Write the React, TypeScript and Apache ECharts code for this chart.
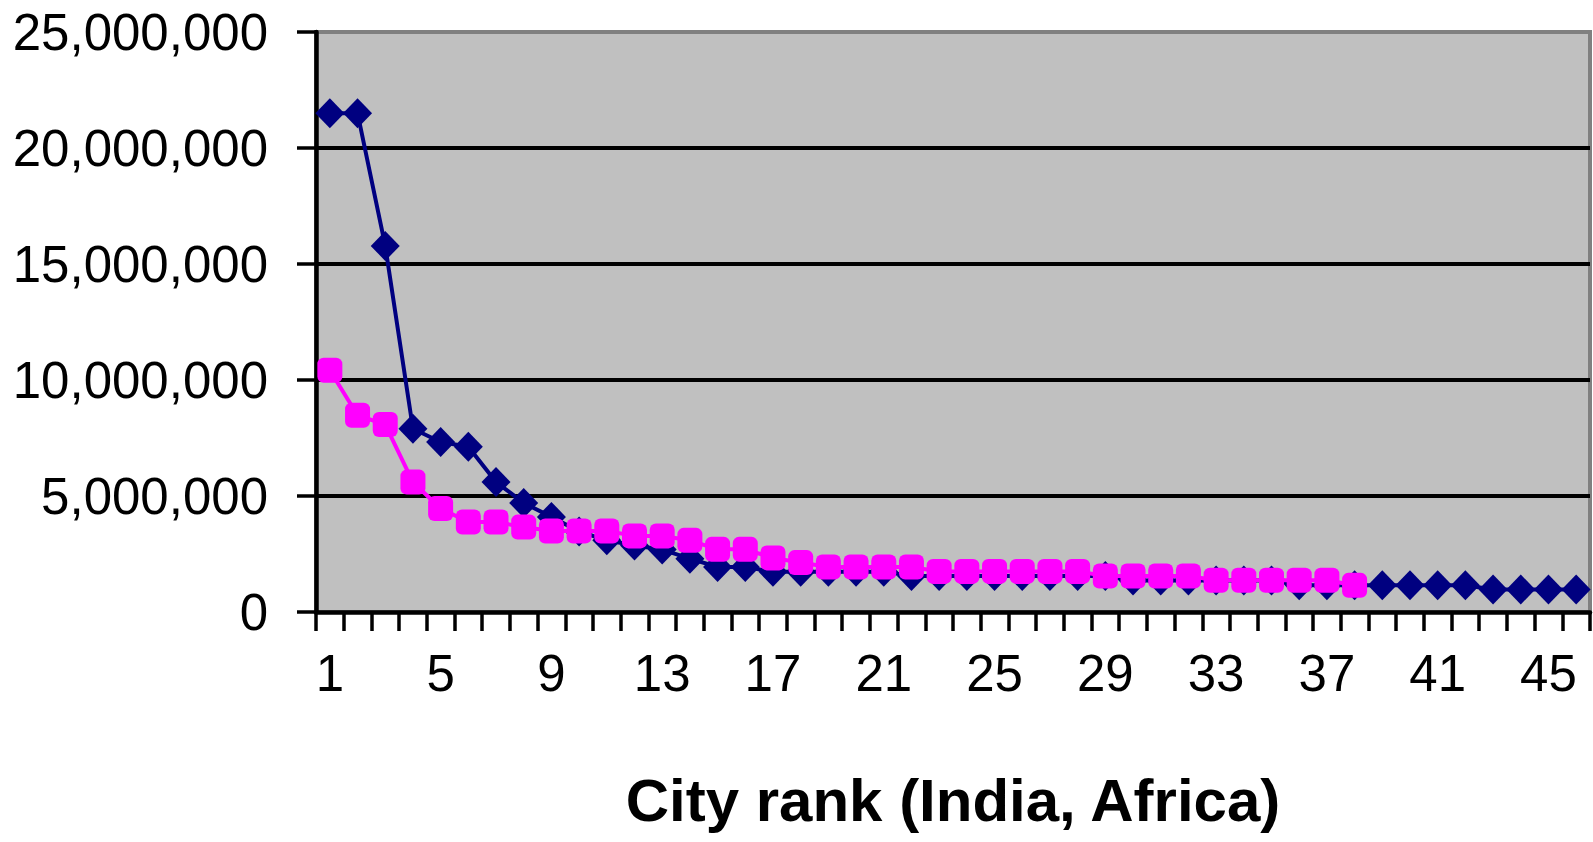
import React, { useEffect, useRef } from "react";
import * as echarts from "echarts";

const cityRanks = [
  "1", "2", "3", "4", "5", "6", "7", "8", "9", "10",
  "11", "12", "13", "14", "15", "16", "17", "18", "19", "20",
  "21", "22", "23", "24", "25", "26", "27", "28", "29", "30",
  "31", "32", "33", "34", "35", "36", "37", "38", "39", "40",
  "41", "42", "43", "44", "45", "46",
];

const indiaPopulation = [
  21500000, 21500000, 15780000, 7900000, 7330000, 7120000, 5600000, 4700000, 4100000, 3470000,
  3090000, 2870000, 2690000, 2300000, 1940000, 1940000, 1730000, 1730000, 1730000, 1730000,
  1740000, 1550000, 1550000, 1550000, 1550000, 1550000, 1550000, 1550000, 1550000, 1360000,
  1360000, 1360000, 1360000, 1360000, 1360000, 1150000, 1150000, 1150000, 1150000, 1150000,
  1150000, 1150000, 970000, 970000, 970000, 970000,
];

const africaPopulation = [
  10420000, 8480000, 8080000, 5600000, 4460000, 3880000, 3880000, 3660000, 3490000, 3490000,
  3490000, 3280000, 3280000, 3090000, 2700000, 2700000, 2330000, 2130000, 1940000, 1940000,
  1940000, 1940000, 1750000, 1750000, 1750000, 1750000, 1750000, 1750000, 1550000, 1550000,
  1550000, 1550000, 1370000, 1370000, 1370000, 1370000, 1370000, 1150000,
];

const yMin = 0;
const yMax = 25000000;
const yStep = 5000000;
const xTitle = "City rank (India, Africa)";

const FONT = "'Liberation Sans', Arial, sans-serif";

export default function App() {
  const ref = useRef<HTMLDivElement>(null);
  useEffect(() => {
    const chart = echarts.init(ref.current as HTMLDivElement, null, { renderer: "svg" });
    chart.setOption({
      animation: false,
      backgroundColor: "#ffffff",
      grid: {
        left: 316,
        right: 3,
        top: 32,
        bottom: 230,
        show: true,
        backgroundColor: "#C0C0C0",
        borderColor: "#808080",
        borderWidth: 4,
      },
      xAxis: {
        type: "category",
        data: cityRanks,
        boundaryGap: true,
        name: xTitle,
        nameLocation: "middle",
        nameGap: 158,
        nameTextStyle: {
          fontFamily: FONT,
          fontSize: 60,
          fontWeight: "bold",
          color: "#000000",
        },
        axisLine: { show: true, lineStyle: { color: "#000000", width: 4.5 } },
        axisTick: { show: true, interval: 0, length: 19, lineStyle: { color: "#000000", width: 3.5 } },
        axisLabel: {
          interval: 3,
          margin: 36,
          fontFamily: FONT,
          fontSize: 51,
          color: "#000000",
        },
        splitLine: { show: false },
      },
      yAxis: {
        type: "value",
        min: yMin,
        max: yMax,
        interval: yStep,
        axisLine: { show: true, lineStyle: { color: "#000000", width: 4.5 } },
        axisTick: { show: true, length: 19, lineStyle: { color: "#000000", width: 3.5 } },
        axisLabel: {
          margin: 48,
          fontFamily: FONT,
          fontSize: 51,
          color: "#000000",
          formatter: (v: number) => v.toLocaleString("en-US"),
        },
        splitLine: {
          show: true,
          showMinLine: false,
          showMaxLine: false,
          lineStyle: { color: "#000000", width: 4 },
        },
      },
      series: [
        {
          name: "India",
          type: "line",
          data: indiaPopulation,
          symbol: "diamond",
          symbolSize: [29, 30],
          showSymbol: true,
          showAllSymbol: true,
          lineStyle: { color: "#000080", width: 4 },
          itemStyle: { color: "#000080" },
          z: 3,
        },
        {
          name: "Africa",
          type: "line",
          data: africaPopulation,
          symbol: "roundRect",
          symbolSize: 25,
          showSymbol: true,
          showAllSymbol: true,
          lineStyle: { color: "#FF00FF", width: 4 },
          itemStyle: { color: "#FF00FF" },
          z: 4,
        },
      ],
    });
    return () => chart.dispose();
  }, []);
  return (
    <div
      ref={ref}
      style={{ position: "absolute", left: 0, top: 0, width: 1593, height: 842 }}
    />
  );
}
